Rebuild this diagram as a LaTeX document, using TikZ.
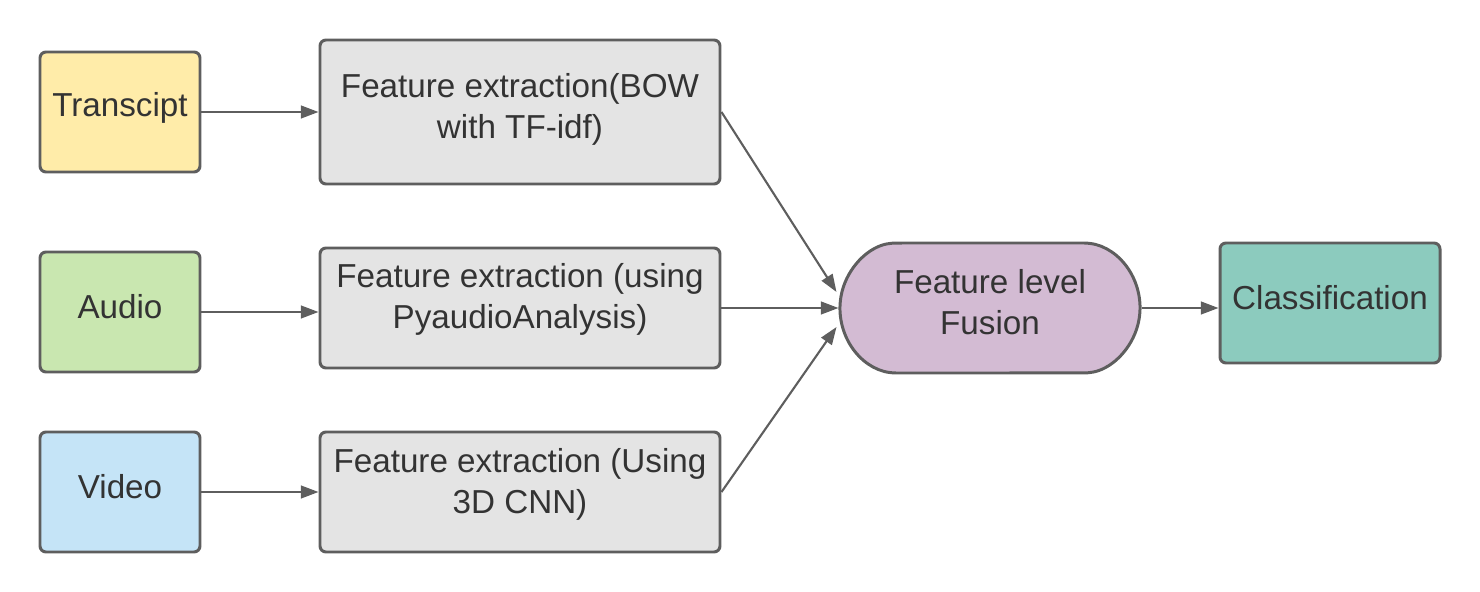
\documentclass[tikz,border=0pt]{standalone}
\usepackage{fontspec}
\setmainfont{Liberation Sans}
\usepackage{tikz}
\usetikzlibrary{shapes,shapes.misc,arrows.meta}

\definecolor{lineg}{HTML}{5E5E5E}
\definecolor{textg}{HTML}{333333}
\definecolor{cyellow}{HTML}{FFECA9}
\definecolor{cgreen}{HTML}{C9E7B0}
\definecolor{cblue}{HTML}{C5E4F7}
\definecolor{cgray}{HTML}{E4E4E4}
\definecolor{cpurple}{HTML}{D3BBD3}
\definecolor{cteal}{HTML}{8CCBBE}

\begin{document}
\begin{tikzpicture}[
		box/.style={draw=lineg, line width=0.85pt, rounded corners=1.7pt, inner sep=0pt},
		inbox/.style={box, minimum width=1.6cm, minimum height=1.2cm},
		featbox/.style={box, fill=cgray, minimum width=4cm, minimum height=1.2cm},
		txt/.style={text=textg, font=\fontsize{9.45}{11.7}\selectfont, align=center, inner sep=0pt},
		link/.style={draw=lineg, line width=0.6pt, -{Triangle[length=5pt,width=3.6pt]}}
	]
		\useasboundingbox (0,0) rectangle (14.8,-5.92);

		\node[inbox, fill=cyellow] (trans) at (1.2,-1.12) {};
		\node[inbox, fill=cgreen] (audio) at (1.2,-3.12) {};
		\node[inbox, fill=cblue] (video) at (1.2,-4.92) {};

		\node[featbox, minimum height=1.44cm] (feat1) at (5.2,-1.12) {};
		\node[featbox] (feat2) at (5.2,-3.08) {};
		\node[featbox] (feat3) at (5.2,-4.92) {};

		\node[box, fill=cpurple, rounded rectangle, rounded rectangle arc length=150,
			minimum width=3cm, minimum height=1.3cm] (fusion) at (9.9,-3.08) {};
		\node[box, fill=cteal, minimum width=2.2cm, minimum height=1.2cm] (cls) at (13.3,-3.03) {};

		% texts
		\node[txt] (trans-t) at ([yshift=0.04cm]trans) {Transcipt};
		\node[txt] (audio-t) at ([yshift=0.055cm]audio) {Audio};
		\node[txt] (video-t) at ([yshift=0.05cm]video) {Video};
		\node[txt] (feat1-t) at ([yshift=0.03cm]feat1) {Feature extraction(BOW\\with TF-idf)};
		\node[txt] (feat2-t) at ([yshift=0.085cm]feat2) {Feature extraction (using\\PyaudioAnalysis)};
		\node[txt] (feat3-t) at ([yshift=0.08cm]feat3) {Feature extraction (Using\\3D CNN)};
		\node[txt] (fusion-t) at ([yshift=0.055cm]fusion) {Feature level\\Fusion};
		\node[txt] (cls-t) at ([yshift=0.055cm]cls) {Classification};

		\draw[link] (trans.east) -- (trans.east -| feat1.west);
		\draw[link] (audio.east) -- (audio.east -| feat2.west);
		\draw[link] (video.east) -- (video.east -| feat3.west);

		\draw[link] (feat1.east) -- ([xshift=-0.02cm,yshift=0.16cm]fusion.west);
		\draw[link] (feat2.east) -- (feat2.east -| fusion.west);
		\draw[link] (feat3.east) -- ([xshift=-0.02cm,yshift=-0.19cm]fusion.west);

		\draw[link] (fusion.east) -- (fusion.east -| cls.west);
	\end{tikzpicture}
\end{document}
